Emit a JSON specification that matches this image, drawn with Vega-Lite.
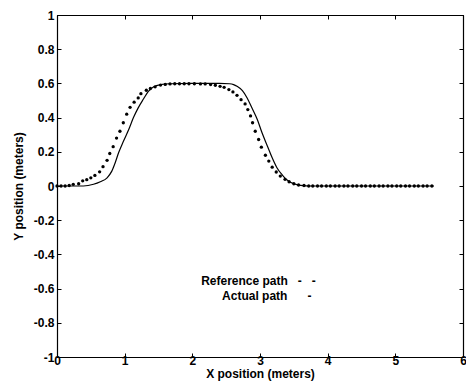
{
  "$schema": "https://vega.github.io/schema/vega-lite/v6.json",
  "autosize": "none",
  "width": 406,
  "height": 342,
  "padding": {"left": 57, "top": 15, "right": 3, "bottom": 29},
  "background": "white",
  "config": {
    "view": {"stroke": "black", "strokeWidth": 1},
    "axis": {
      "labelFont": "Liberation Sans", "labelFontWeight": "bold", "labelFontSize": 12, "labelColor": "black",
      "titleFont": "Liberation Sans", "titleFontWeight": "bold", "titleFontSize": 12, "titleColor": "black",
      "domainColor": "black", "tickColor": "black", "grid": false, "tickSize": -4, "domainWidth": 1.2
    },
    "text": {"font": "Liberation Sans", "fontWeight": "bold", "fontSize": 12}
  },
  "datasets": {
    "ref": [
      {"x": 0.0, "y": 0.0}, {"x": 0.06, "y": 0.0}, {"x": 0.12, "y": 0.0}, {"x": 0.18, "y": 0.003}, {"x": 0.24, "y": 0.01},
      {"x": 0.32, "y": 0.013}, {"x": 0.38, "y": 0.03}, {"x": 0.44, "y": 0.037}, {"x": 0.5, "y": 0.048}, {"x": 0.56, "y": 0.062},
      {"x": 0.63, "y": 0.083}, {"x": 0.68, "y": 0.113}, {"x": 0.74, "y": 0.15}, {"x": 0.78, "y": 0.19}, {"x": 0.83, "y": 0.23},
      {"x": 0.88, "y": 0.28}, {"x": 0.93, "y": 0.32}, {"x": 0.98, "y": 0.37}, {"x": 1.03, "y": 0.42}, {"x": 1.08, "y": 0.46},
      {"x": 1.14, "y": 0.49}, {"x": 1.2, "y": 0.515}, {"x": 1.24, "y": 0.54}, {"x": 1.32, "y": 0.56}, {"x": 1.38, "y": 0.57},
      {"x": 1.45, "y": 0.58}, {"x": 1.53, "y": 0.59}, {"x": 1.6, "y": 0.594}, {"x": 1.67, "y": 0.597}, {"x": 1.74, "y": 0.598},
      {"x": 1.81, "y": 0.598}, {"x": 1.88, "y": 0.598}, {"x": 1.95, "y": 0.598}, {"x": 2.03, "y": 0.598}, {"x": 2.12, "y": 0.597},
      {"x": 2.19, "y": 0.597}, {"x": 2.27, "y": 0.593}, {"x": 2.34, "y": 0.589}, {"x": 2.41, "y": 0.583}, {"x": 2.47, "y": 0.577},
      {"x": 2.54, "y": 0.564}, {"x": 2.6, "y": 0.55}, {"x": 2.66, "y": 0.53}, {"x": 2.72, "y": 0.505}, {"x": 2.78, "y": 0.48},
      {"x": 2.82, "y": 0.447}, {"x": 2.86, "y": 0.41}, {"x": 2.89, "y": 0.37}, {"x": 2.93, "y": 0.32}, {"x": 2.98, "y": 0.272},
      {"x": 3.02, "y": 0.227}, {"x": 3.08, "y": 0.18}, {"x": 3.13, "y": 0.146}, {"x": 3.18, "y": 0.11}, {"x": 3.24, "y": 0.082},
      {"x": 3.3, "y": 0.058}, {"x": 3.37, "y": 0.039}, {"x": 3.43, "y": 0.025}, {"x": 3.5, "y": 0.013}, {"x": 3.57, "y": 0.006},
      {"x": 3.65, "y": 0.003}, {"x": 3.72, "y": 0.0}, {"x": 3.78, "y": 0.0}, {"x": 3.85, "y": 0.0}, {"x": 3.91, "y": 0.0},
      {"x": 3.98, "y": 0.0}, {"x": 4.04, "y": 0.0}, {"x": 4.11, "y": 0.0}, {"x": 4.17, "y": 0.0}, {"x": 4.24, "y": 0.0},
      {"x": 4.3, "y": 0.0}, {"x": 4.37, "y": 0.0}, {"x": 4.43, "y": 0.0}, {"x": 4.5, "y": 0.0}, {"x": 4.56, "y": 0.0},
      {"x": 4.63, "y": 0.0}, {"x": 4.69, "y": 0.0}, {"x": 4.76, "y": 0.0}, {"x": 4.82, "y": 0.0}, {"x": 4.89, "y": 0.0},
      {"x": 4.95, "y": 0.0}, {"x": 5.02, "y": 0.0}, {"x": 5.08, "y": 0.0}, {"x": 5.15, "y": 0.0}, {"x": 5.21, "y": 0.0},
      {"x": 5.28, "y": 0.0}, {"x": 5.34, "y": 0.0}, {"x": 5.41, "y": 0.0}, {"x": 5.47, "y": 0.0}, {"x": 5.54, "y": 0.0}
    ],
    "actual": [
      {"x": 0.0, "y": 0.0}, {"x": 0.39, "y": 0.0}, {"x": 0.54, "y": 0.01}, {"x": 0.64, "y": 0.025}, {"x": 0.74, "y": 0.048},
      {"x": 0.81, "y": 0.087}, {"x": 0.86, "y": 0.136}, {"x": 0.91, "y": 0.194}, {"x": 0.98, "y": 0.26}, {"x": 1.06, "y": 0.33},
      {"x": 1.13, "y": 0.4}, {"x": 1.2, "y": 0.457}, {"x": 1.28, "y": 0.51}, {"x": 1.35, "y": 0.554}, {"x": 1.43, "y": 0.58},
      {"x": 1.53, "y": 0.593}, {"x": 1.67, "y": 0.598}, {"x": 2.0, "y": 0.6}, {"x": 2.4, "y": 0.6}, {"x": 2.55, "y": 0.598},
      {"x": 2.61, "y": 0.593}, {"x": 2.66, "y": 0.583}, {"x": 2.74, "y": 0.558}, {"x": 2.81, "y": 0.515}, {"x": 2.88, "y": 0.457},
      {"x": 2.96, "y": 0.389}, {"x": 3.03, "y": 0.311}, {"x": 3.11, "y": 0.233}, {"x": 3.18, "y": 0.165}, {"x": 3.25, "y": 0.107},
      {"x": 3.33, "y": 0.064}, {"x": 3.4, "y": 0.035}, {"x": 3.5, "y": 0.013}, {"x": 3.6, "y": 0.004}, {"x": 3.75, "y": 0.0},
      {"x": 5.57, "y": 0.0}
    ],
    "notes": [
      {"x": 2.13, "y": -0.556, "label": "Reference path\u00a0\u00a0\u00a0-\u00a0\u00a0\u00a0-"},
      {"x": 2.44, "y": -0.643, "label": "Actual path\u00a0\u00a0\u00a0\u00a0\u00a0\u00a0-"}
    ]
  },
  "layer": [
    {
      "data": {"name": "ref"},
      "mark": {"type": "point", "filled": true, "color": "black", "size": 11, "opacity": 1},
      "encoding": {
        "x": {"field": "x", "type": "quantitative", "scale": {"domain": [0, 6], "nice": false, "zero": false},
          "axis": {"orient": "bottom", "title": "X position (meters)", "values": [0, 1, 2, 3, 4, 5, 6], "labelPadding": 2, "titlePadding": 2, "labelFlush": false}},
        "y": {"field": "y", "type": "quantitative", "scale": {"domain": [-1, 1], "nice": false, "zero": false},
          "axis": {"orient": "left", "title": "Y position (meters)", "values": [-1, -0.8, -0.6, -0.4, -0.2, 0, 0.2, 0.4, 0.6, 0.8, 1], "labelPadding": 7, "titlePadding": 8, "labelFlush": false, "labelExpr": "'' + datum.value"}}
      }
    },
    {
      "data": {"name": "actual"},
      "mark": {"type": "line", "color": "black", "strokeWidth": 1.2, "interpolate": "monotone"},
      "encoding": {
        "x": {"field": "x", "type": "quantitative", "axis": {"orient": "top", "labels": false, "title": null, "values": [0, 1, 2, 3, 4, 5, 6]}},
        "y": {"field": "y", "type": "quantitative", "axis": {"orient": "right", "labels": false, "title": null, "values": [-1, -0.8, -0.6, -0.4, -0.2, 0, 0.2, 0.4, 0.6, 0.8, 1]}}
      }
    },
    {
      "data": {"name": "notes"},
      "mark": {"type": "text", "align": "left", "baseline": "middle", "color": "black"},
      "encoding": {
        "x": {"field": "x", "type": "quantitative", "axis": null},
        "y": {"field": "y", "type": "quantitative", "axis": null},
        "text": {"field": "label"}
      }
    }
  ],
  "resolve": {"axis": {"x": "independent", "y": "independent"}}
}
